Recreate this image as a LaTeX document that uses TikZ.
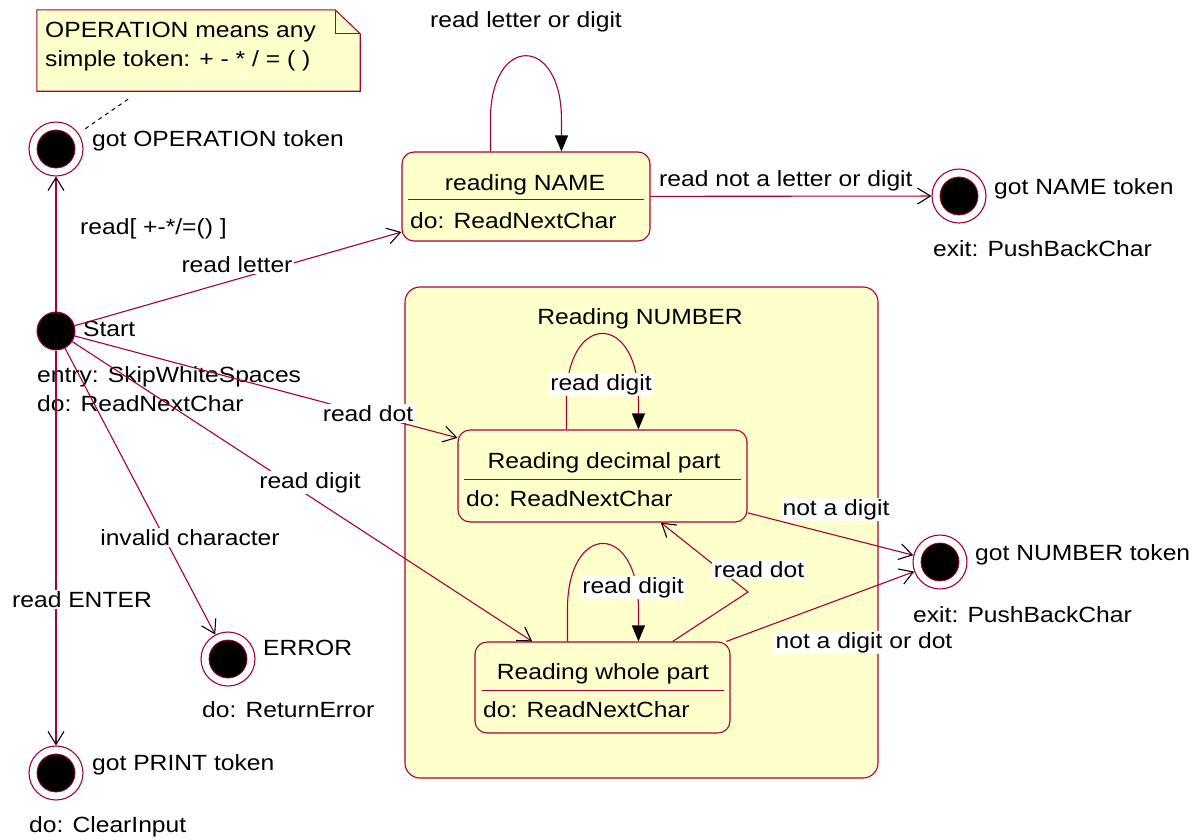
\documentclass[tikz,border=0pt]{standalone}
\usepackage{fontspec}
\setmainfont{Liberation Sans}[FakeStretch=1.12]
\usetikzlibrary{arrows.meta,calc}
\definecolor{crim}{HTML}{A80036}
\definecolor{paleyel}{HTML}{FFFFCC}
\begin{document}
\begin{tikzpicture}[x=1pt,y=-1pt,
  every node/.style={font=\fontsize{22pt}{26pt}\selectfont},
  txt/.style={inner sep=0pt, anchor=base west},
  ctxt/.style={inner sep=0pt, anchor=base},
  lbl/.style={inner sep=1.5pt, fill=white, anchor=base},
  statebox/.style={draw=crim, fill=paleyel, rounded corners=12pt, line width=1.1pt, inner sep=0pt},
  finalst/.style={circle, draw=crim, fill=white, minimum size=54pt, inner sep=0pt, line width=1.1pt},
  startst/.style={circle, draw=crim, fill=black, minimum size=38pt, inner sep=0pt, line width=1pt},
  trans/.style={draw=crim, line width=1.1pt, -{Straight Barb[length=13pt,width=16pt,color=black,line width=1.1pt]}},
  selfloop/.style={draw=crim, line width=1.1pt, -{Triangle[length=16pt,width=13pt,color=black,fill=black]}},
  sepline/.style={draw=crim, line width=1.1pt},
  notelink/.style={draw=black, line width=1pt, dash pattern=on 4pt off 4pt, shorten <=14pt, shorten >=4pt},
]
\useasboundingbox (0,0) rectangle (1200,839);

% note
\node[inner sep=0pt, minimum width=323pt, minimum height=81pt] (note) at (198.5,50.5) {};
\draw[crim, fill=paleyel, line width=1.1pt] (note.north west) -- ($(note.north east)+(-25,0)$) -- ($(note.north east)+(0,24)$) -- (note.south east) -- (note.south west) -- cycle;
\draw[crim, line width=1.1pt] ($(note.north east)+(-25,0)$) -- ($(note.north east)+(-25,24)$) -- ($(note.north east)+(0,24)$);
\node[txt] (notet1) at (45,37) {OPERATION means any};
\node[txt] (notet2) at (45,66) {simple token: + - * / = ( )};

% composite state
\node[statebox, rounded corners=15pt, minimum width=473pt, minimum height=491pt] (numb) at (641.5,532.5) {};
\node[ctxt] (numbt) at (640,324) {Reading NUMBER};

% simple states
\node[statebox, minimum width=248pt, minimum height=89pt] (name) at (526,196.5) {};
\node[statebox, minimum width=289pt, minimum height=92pt] (dec) at (602.5,476) {};
\node[statebox, minimum width=255pt, minimum height=91pt] (whole) at (602.5,687.5) {};
\draw[sepline] ($(name.north west)+(7,48)$) -- ($(name.north east)+(-7,48)$);
\draw[sepline] ($(dec.north west)+(7,50)$) -- ($(dec.north east)+(-7,50)$);
\draw[sepline] ($(whole.north west)+(8,49)$) -- ($(whole.north east)+(-7,49)$);
\node[ctxt] (namet) at (525,190) {reading NAME};
\node[txt] (named) at (410,228) {do: ReadNextChar};
\node[ctxt] (dect) at (604,468) {Reading decimal part};
\node[txt] (decd) at (466,506) {do: ReadNextChar};
\node[ctxt] (wholet) at (603,679) {Reading whole part};
\node[txt] (wholed) at (483,717) {do: ReadNextChar};

% start and final states
\node[startst] (start) at (56,331) {};
\node[finalst] (op) at (56,149) {};
\node[finalst] (print) at (56,773) {};
\node[finalst] (err) at (228,659) {};
\node[finalst] (gname) at (959,196) {};
\node[finalst] (gnum) at (940,562) {};
\foreach \s in {op,print,err,gname,gnum}{
  \filldraw[fill=black, draw=crim, line width=0.8pt] (\s.center) circle[radius=19];
}

\node[txt] (opt) at (92,146) {got OPERATION token};
\node[txt] (startt) at (83,336) {Start};
\node[txt] (starte) at (37,382) {entry: SkipWhiteSpaces};
\node[txt] (startd) at (37,411) {do: ReadNextChar};
\node[txt] (printt) at (92,770) {got PRINT token};
\node[txt] (printd) at (29,832) {do: ClearInput};
\node[txt] (errt) at (263,655) {ERROR};
\node[txt] (errd) at (202,717) {do: ReturnError};
\node[txt] (gnamet) at (994,194) {got NAME token};
\node[txt] (gnamee) at (933,256) {exit: PushBackChar};
\node[txt] (gnumt) at (975,560) {got NUMBER token};
\node[txt] (gnume) at (913,622) {exit: PushBackChar};

% note link
\draw[notelink] (note) -- (op);

% transitions
\draw[trans] (start) -- (op);
\draw[trans] (start) -- (name);
\draw[trans] (start) -- (dec);
\draw[trans] (start) -- (whole);
\draw[trans] (start) -- (err);
\draw[trans] (start) -- (print);
\draw[trans] (name) -- (gname);
\draw[trans] (dec) -- (gnum);
\draw[trans] (whole) -- (gnum);
\coordinate (bend) at (748,592);
\draw[trans] (whole) -- (bend) -- (dec);

% self loops
\coordinate (nameL) at ($(name.north west)+(89,0)$);
\coordinate (nameR) at ($(name.north west)+(160,0)$);
\draw[selfloop] (nameL) -- ++(0,-32) .. controls +(0,-85) and +(0,-85) .. ($(nameR)+(0,-32)$) -- (nameR);
\coordinate (decL) at ($(dec.north west)+(109,0)$);
\coordinate (decR) at ($(dec.north west)+(181,0)$);
\draw[selfloop] (decL) -- ++(0,-30) .. controls +(0,-88) and +(0,-88) .. ($(decR)+(0,-30)$) -- (decR);
\coordinate (wholeL) at ($(whole.north west)+(93,0)$);
\coordinate (wholeR) at ($(whole.north west)+(164,0)$);
\draw[selfloop] (wholeL) -- ++(0,-32) .. controls +(0,-88) and +(0,-88) .. ($(wholeR)+(0,-32)$) -- (wholeR);

% transition labels
\node[txt] (l0) at (80,234) {read[ +-*/=() ]};
\node[lbl] (l1) at (237,272) {read letter};
\node[lbl] (l2) at (368,421) {read dot};
\node[lbl] (l3) at (310,488) {read digit};
\node[lbl] (l4) at (190,545) {invalid character};
\node[lbl] (l5) at (82,607) {read ENTER};
\node[ctxt] (l6) at (526,27) {read letter or digit};
\node[txt] (l7) at (659,186) {read not a letter or digit};
\node[lbl] (l8) at (601,390) {read digit};
\node[lbl] (l9) at (633,593) {read digit};
\node[lbl] (l10) at (759,577) {read dot};
\node[lbl] (l11) at (836,515) {not a digit};
\node[lbl] (l12) at (864,648) {not a digit or dot};
\end{tikzpicture}
\end{document}
